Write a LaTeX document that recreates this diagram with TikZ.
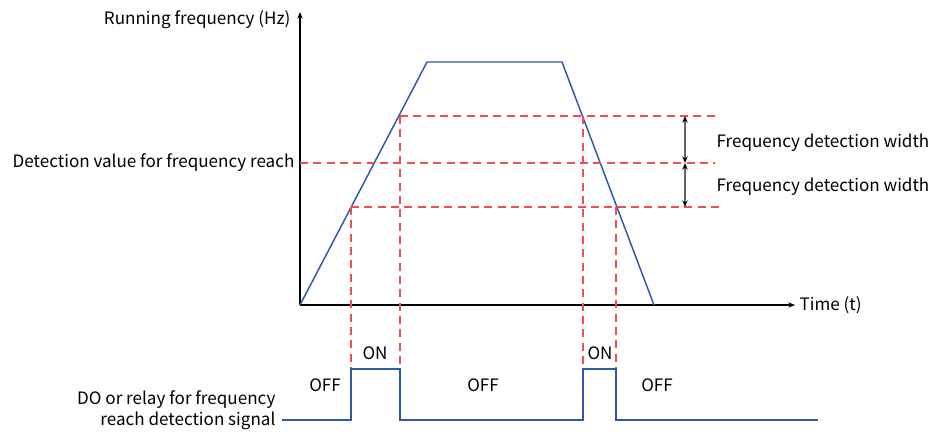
\documentclass[tikz,border=0pt]{standalone}
\usepackage{fontspec}
\setmainfont{Noto Sans CJK SC}
\usepackage{tikz}
\usetikzlibrary{arrows.meta}

\definecolor{curveblue}{RGB}{47,88,170}
\definecolor{dashred}{RGB}{242,76,76}

\begin{document}
\begin{tikzpicture}[x=0.75pt,y=-0.75pt,
every node/.style={font=\fontsize{12.8}{15.5}\selectfont,inner sep=1pt},
axis/.style={-{Stealth[length=5pt,width=4pt]},line width=0.8pt},
curve/.style={curveblue,line width=1.1pt},
guide/.style={dashred,line width=0.85pt,dash pattern=on 6pt off 4pt},
width/.style={{Stealth[length=5pt,width=4pt,black]}-{Stealth[length=5pt,width=4pt,black]},gray!80!black,line width=0.8pt}]
\useasboundingbox (0,0) rectangle (936,433);

% axes
\coordinate (O) at (300,305);
\coordinate (ytop) at (300,12);
\coordinate (xend) at (795,305);
\draw[axis] (O)--(ytop); \draw[axis] (O)--(xend);
\node[anchor=east] (ylabel) at (292,20) {Running frequency (Hz)};
\node[anchor=west] (xlabel) at (798,305) {Time (t)};

% frequency curve
\coordinate (rise) at (427,62); \coordinate (fall) at (562,62); \coordinate (stop) at (654,305);
\draw[curve] (O)--(rise)--(fall)--(stop);

% detection levels
\coordinate (upL) at (400,116); \coordinate (upR) at (715,116);
\coordinate (midL) at (300,163); \coordinate (midR) at (715,163);
\coordinate (loL) at (351,207); \coordinate (loR) at (722,207);
\draw[guide] (upL)--(upR); \draw[guide] (midL)--(midR); \draw[guide] (loL)--(loR);
\node[anchor=east] (detval) at (296,163) {Detection value for frequency reach};

% widths
\coordinate (wA) at (685,116); \coordinate (wB) at (685,163); \coordinate (wC) at (685,207);
\draw[width] (wA)--(wB); \draw[width] (wB)--(wC);
\node[anchor=west] (width1) at (715,143) {Frequency detection width};
\node[anchor=west] (width2) at (715,187) {Frequency detection width};

% switching points
\coordinate (on1) at (351,372); \coordinate (off1) at (400,372);
\coordinate (on2) at (583,372); \coordinate (off2) at (616,372);
\coordinate (on2top) at (583,116); \coordinate (off2top) at (616,207);
\draw[guide] (loL)--(on1); \draw[guide] (upL)--(off1);
\draw[guide] (on2top)--(on2); \draw[guide] (off2top)--(off2);

% output signal
\coordinate (sigL) at (282,420); \coordinate (sigR) at (818,420);
\draw[curve] (sigL)--(351,420)--(351,369)--(400,369)--(400,420)--(583,420)--(583,369)--(616,369)--(616,420)--(sigR);
\node (off1lbl) at (325,385) {OFF};
\node (on1lbl) at (375,353) {ON};
\node (off2lbl) at (483,385) {OFF};
\node (on2lbl) at (600,353) {ON};
\node (off3lbl) at (657,385) {OFF};
\node[anchor=east,align=right] (dolabel) at (277,410) {DO or relay for frequency\\reach detection signal};
\end{tikzpicture}
\end{document}
